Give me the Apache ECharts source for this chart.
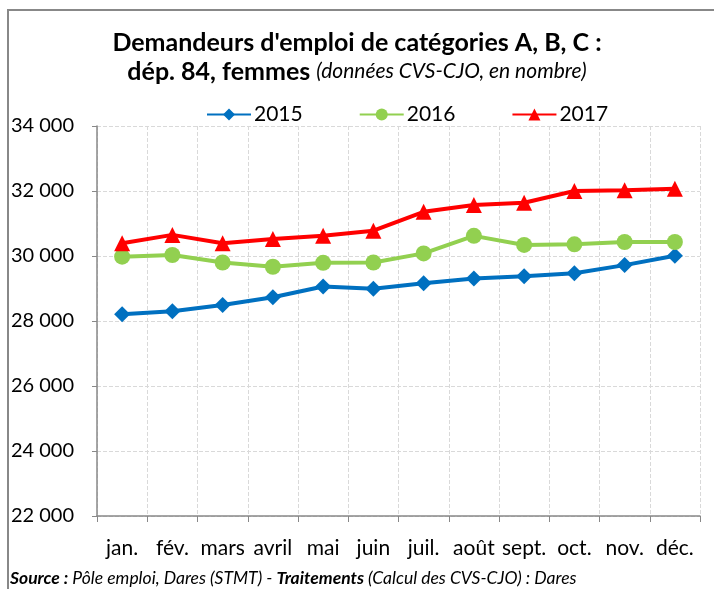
<!DOCTYPE html>
<html><head><meta charset="utf-8">
<script src="https://cdn.jsdelivr.net/npm/echarts@6/dist/echarts.min.js"></script>
<style>html,body{margin:0;padding:0;background:#fff}#c{width:714px;height:589px}</style>
</head><body><div id="c"></div>
<script>
const months = ['jan.','fév.','mars','avril','mai','juin','juil.','août','sept.','oct.','nov.','déc.'];
const s2015 = [28210,28300,28490,28730,29060,28990,29160,29310,29380,29470,29720,30010];
const s2016 = [29980,30030,29800,29670,29790,29800,30080,30620,30340,30360,30430,30430];
const s2017 = [30390,30650,30390,30520,30620,30780,31360,31570,31640,32000,32020,32070];
const yTicks = {min:22000, max:34000, interval:2000};
const FONT = 'Lato,"Open Sans",sans-serif';

const chart = echarts.init(document.getElementById('c'));
const fmt = v => String(v).replace(/\B(?=(\d{3})+(?!\d))/g,' ');
const mk = (name, data, color, symbol, size) => ({
  name, type:'line', data, symbol, symbolSize:size,
  lineStyle:{color, width:4}, itemStyle:{color},
  emphasis:{disabled:true}
});
chart.setOption({
  animation:false,
  textStyle:{fontFamily:FONT},
  graphic:[
    {type:'polyline', shape:{points:[[8,600],[8,10],[720,10]]}, style:{stroke:'#888', lineWidth:2, fill:null}},
    {type:'text', left:'center', top:30, style:{text:"Demandeurs d'emploi de catégories A, B, C :", font:'bold 25px '+FONT, fill:'#000'}},
    {type:'text', left:'center', top:59, style:{rich:{b:{font:'bold 25px '+FONT, fill:'#000'}, i:{font:'italic 21px '+FONT, fill:'#000'}}, text:'{b|dép. 84, femmes }{i|(données CVS-CJO, en nombre)}'}},
    {type:'text', left:10, top:569, style:{rich:{b:{font:'bold italic 17.5px '+FONT, fill:'#000'}, i:{font:'italic 17.5px '+FONT, fill:'#000'}}, text:'{b|Source :}{i| Pôle emploi, Dares (STMT) - }{b|Traitements}{i| (Calcul des CVS-CJO) : Dares}'}}
  ],
  legend:{
    top:99, left:201, itemGap:56, itemWidth:44, itemHeight:15,
    textStyle:{fontSize:21, color:'#000', fontFamily:FONT, padding:[0,0,0,-2]},
    data:['2015','2016','2017']
  },
  grid:{left:97, right:14, top:126, bottom:73},
  xAxis:{
    type:'category', data:months, boundaryGap:true,
    axisLine:{lineStyle:{color:'#888', width:1.5}},
    axisTick:{show:true, length:6, interval:0, lineStyle:{color:'#888'}},
    axisLabel:{fontSize:21, color:'#000', margin:22, interval:0, fontFamily:FONT},
    splitLine:{show:true, interval:0, lineStyle:{color:'#d9d9d9', type:'dashed'}}
  },
  yAxis:{
    type:'value', min:yTicks.min, max:yTicks.max, interval:yTicks.interval,
    axisLine:{show:true, lineStyle:{color:'#888', width:1.5}},
    axisTick:{show:true, length:5, lineStyle:{color:'#888'}},
    axisLabel:{fontSize:20, color:'#000', margin:23, formatter:fmt, fontFamily:FONT},
    splitLine:{show:true, lineStyle:{color:'#d9d9d9', type:'dashed'}}
  },
  series:[
    mk('2015', s2015, '#0070c0', 'diamond', 16),
    mk('2016', s2016, '#92d050', 'circle', 16),
    mk('2017', s2017, '#ff0000', 'triangle', 16)
  ]
});
</script></body></html>
